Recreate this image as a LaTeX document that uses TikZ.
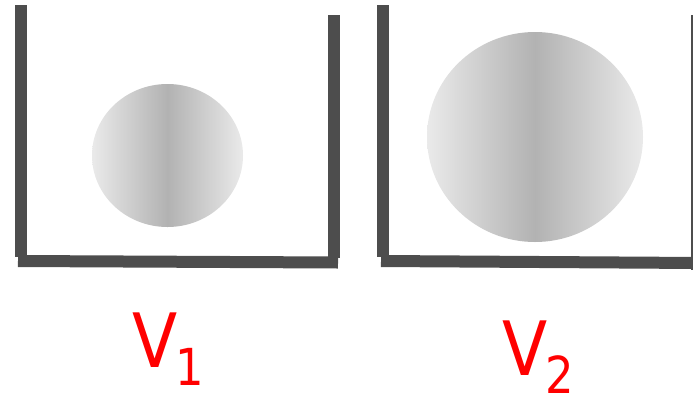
\documentclass[tikz,border=0pt]{standalone}
\usepackage{fontspec}
\setmainfont{DejaVu Sans}
\usepackage{xcolor}
\usepackage{tikz}

\definecolor{wallgray}{HTML}{4D4D4D}
\definecolor{ballside}{HTML}{EAEAEA}
\definecolor{ballmid}{HTML}{B2B2B2}
\newcommand{\subdigit}[1]{\kern-2pt\lower18pt\hbox{\fontsize{51}{51}\selectfont #1}}

\begin{document}
\begin{tikzpicture}[
    x=1pt, y=-1pt,
    wall/.style={draw=wallgray, line width=12pt},
    ball/.style={left color=ballside, right color=ballside, middle color=ballmid},
    vlabel/.style={text=red, anchor=base west, inner sep=0pt, xscale=0.88, transform shape, font=\fontsize{75}{75}\selectfont}
]
    \useasboundingbox (0,0) rectangle (693,397);

    % First container
    \coordinate (c1_tl) at (21,5);
    \coordinate (c1_bl) at (21,257);
    \coordinate (c1_tr) at (334,15);
    \coordinate (c1_br) at (334,258);
    \draw[wall] (c1_tl) -- (c1_bl);
    \draw[wall] (c1_tr) -- (c1_br);
    \draw[wall] (18,261) -- (338,262.5);
    \shade[ball] (167.5,155.5) ellipse [x radius=75.5pt, y radius=71.5pt];

    % Second container
    \coordinate (c2_tl) at (383,5);
    \coordinate (c2_bl) at (383,257);
    \coordinate (c2_tr) at (697,15);
    \coordinate (c2_br) at (697,270);
    \draw[wall] (c2_tl) -- (c2_bl);
    \draw[wall] (c2_tr) -- (c2_br);
    \draw[wall] (381,261) -- (700,263);
    \shade[ball] (535,137) ellipse [x radius=108pt, y radius=105pt];

    % Volume labels
    \node[vlabel] (v1) at (132,367) {V\subdigit{1}};
    \node[vlabel] (v2) at (502,375) {V\subdigit{2}};
\end{tikzpicture}
\end{document}
